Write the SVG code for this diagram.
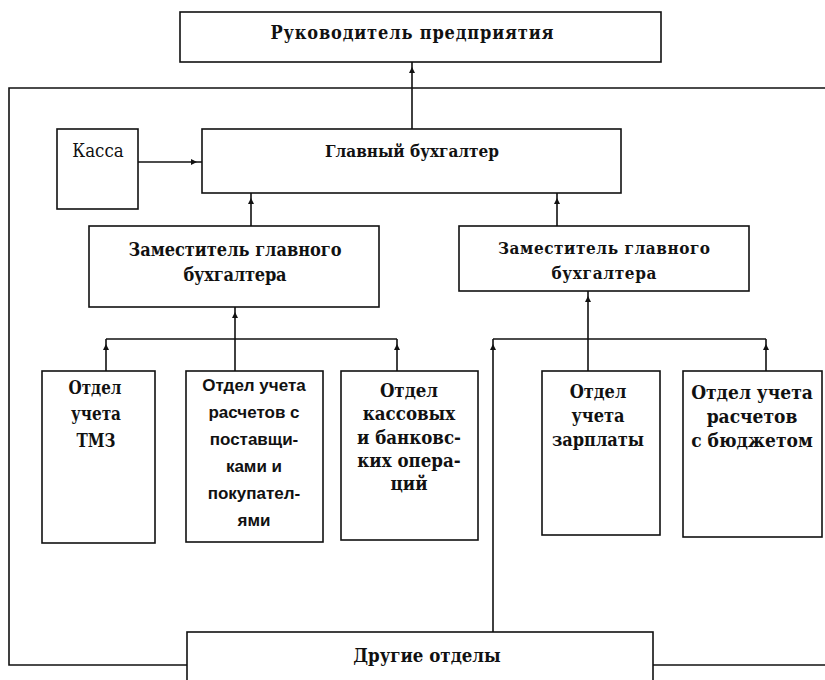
<svg xmlns="http://www.w3.org/2000/svg" width="825" height="680" viewBox="0 0 825 680">
<style>
.box{fill:#fff;stroke:#111;stroke-width:1.6}
.ln{fill:none;stroke:#111;stroke-width:1.6}
.t{font-family:"DejaVu Serif Condensed","DejaVu Serif","Liberation Serif",serif;font-stretch:condensed;font-weight:bold;fill:#111;text-anchor:middle}
.s{font-family:"Liberation Sans",Arial,sans-serif;font-weight:bold;fill:#111;text-anchor:middle}
.r{font-family:"DejaVu Serif Condensed","DejaVu Serif","Liberation Serif",serif;font-stretch:condensed;fill:#111;text-anchor:middle}
</style>
<defs>
<marker id="ah" markerUnits="userSpaceOnUse" markerWidth="12" markerHeight="6" refX="11" refY="3" orient="auto" overflow="visible">
<path d="M0,0 L6,3 L0,6 z" fill="#111"/>
</marker>
</defs>
<rect width="825" height="680" fill="#fff"/>
<g id="connectors">
<path class="ln" d="M825,88 H9 V665 H187"/>
<path class="ln" d="M653,665 H825"/>
<path class="ln" d="M412,129 V62" marker-end="url(#ah)"/>
<path class="ln" d="M138,162 H202" marker-end="url(#ah)"/>
<path class="ln" d="M251,226 V193" marker-end="url(#ah)"/>
<path class="ln" d="M557,226 V193" marker-end="url(#ah)"/>
<path class="ln" d="M235,371 V307" marker-end="url(#ah)"/>
<path class="ln" d="M106,339 H397"/>
<path class="ln" d="M106,371 V339" marker-end="url(#ah)"/>
<path class="ln" d="M397,371 V339" marker-end="url(#ah)"/>
<path class="ln" d="M588,371 V291" marker-end="url(#ah)"/>
<path class="ln" d="M493,339 H766"/>
<path class="ln" d="M493,632 V339" marker-end="url(#ah)"/>
<path class="ln" d="M766,371 V339" marker-end="url(#ah)"/>
</g>
<g id="director">
<rect class="box" x="180" y="12" width="481" height="50"/>
<text class="t" x="412" y="39" font-size="18" textLength="283" lengthAdjust="spacing">Руководитель предприятия</text>
</g>
<g id="kassa">
<rect class="box" x="57" y="129" width="81" height="80"/>
<text class="r" x="98" y="157" font-size="18.5">Касса</text>
</g>
<g id="chief">
<rect class="box" x="202" y="129" width="419" height="64"/>
<text class="t" x="412" y="157" font-size="17" textLength="174" lengthAdjust="spacing">Главный бухгалтер</text>
</g>
<g id="deputy1">
<rect class="box" x="89" y="226" width="290" height="81"/>
<text class="t" x="235" y="256" font-size="18" textLength="213" lengthAdjust="spacing">Заместитель главного</text>
<text class="t" x="235" y="281" font-size="18" textLength="103" lengthAdjust="spacing">бухгалтера</text>
</g>
<g id="deputy2">
<rect class="box" x="459" y="226" width="290" height="65"/>
<text class="t" x="604" y="254" font-size="17" textLength="212" lengthAdjust="spacing">Заместитель главного</text>
<text class="t" x="604" y="279" font-size="17" textLength="105" lengthAdjust="spacing">бухгалтера</text>
</g>
<g id="dept-tmz">
<rect class="box" x="42" y="371" width="113" height="172"/>
<text class="t" x="95" y="394" font-size="19" textLength="53" lengthAdjust="spacingAndGlyphs">Отдел</text>
<text class="t" x="96" y="420" font-size="19" textLength="50" lengthAdjust="spacingAndGlyphs">учета</text>
<text class="t" x="96" y="447" font-size="19" textLength="39" lengthAdjust="spacingAndGlyphs">ТМЗ</text>
</g>
<g id="dept-suppliers">
<rect class="box" x="186" y="371" width="137" height="171"/>
<text class="s" x="254" y="391" font-size="17">Отдел учета</text>
<text class="s" x="254" y="418" font-size="17">расчетов с</text>
<text class="s" x="254" y="445" font-size="17">поставщи-</text>
<text class="s" x="254" y="472" font-size="17">ками и</text>
<text class="s" x="254" y="499" font-size="17">покупател-</text>
<text class="s" x="254" y="526" font-size="17">ями</text>
</g>
<g id="dept-cash">
<rect class="box" x="341" y="371" width="137" height="169"/>
<text class="t" x="409" y="397" font-size="18.5">Отдел</text>
<text class="t" x="409" y="420" font-size="18.5">кассовых</text>
<text class="t" x="409" y="444" font-size="18.5">и банковс-</text>
<text class="t" x="409" y="467" font-size="18.5">ких опера-</text>
<text class="t" x="409" y="490" font-size="18.5">ций</text>
</g>
<g id="dept-salary">
<rect class="box" x="542" y="371" width="118" height="164"/>
<text class="t" x="598" y="398" font-size="18">Отдел</text>
<text class="t" x="598" y="422" font-size="18">учета</text>
<text class="t" x="598" y="446" font-size="18">зарплаты</text>
</g>
<g id="dept-budget">
<rect class="box" x="683" y="371" width="139" height="166"/>
<text class="t" x="752" y="399" font-size="19">Отдел учета</text>
<text class="t" x="752" y="423" font-size="19">расчетов</text>
<text class="t" x="752" y="447" font-size="19">с бюджетом</text>
</g>
<g id="other">
<rect class="box" x="187" y="632" width="466" height="60"/>
<text class="t" x="427" y="662" font-size="18.5">Другие отделы</text>
</g>
</svg>
